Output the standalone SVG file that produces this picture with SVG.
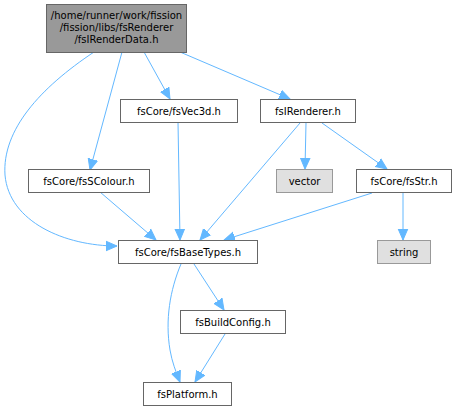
<svg xmlns="http://www.w3.org/2000/svg" width="456" height="411" viewBox="0 0 456 411">
<style>
.n rect{fill:#ffffff;stroke:#666666;stroke-width:1}
.n.root rect{fill:#999999;stroke:#666666}
.n.sys rect{fill:#e0e0e0;stroke:#999999}
text{font-family:"DejaVu Sans",sans-serif;font-size:10px;text-anchor:middle;fill:#000000}
.e path{fill:none;stroke:#63b8ff;stroke-width:1}
</style>
<defs>
<marker id="ah" markerUnits="userSpaceOnUse" markerWidth="12" markerHeight="12" viewBox="0 0 12 12" refX="11" refY="6" orient="auto">
<path d="M0,1.2 L11,6 L0,10.8 Z" fill="#63b8ff" stroke="#63b8ff"/>
</marker>
</defs>
<rect width="456" height="411" fill="#ffffff"/>
<g id="edges" class="e">
<path marker-end="url(#ah)" d="M94,52 C40,88 2,130 5,175 C9,222 65,246 117,246"/>
<path marker-end="url(#ah)" d="M122,52 L90,170"/>
<path marker-end="url(#ah)" d="M144,52 L170,99"/>
<path marker-end="url(#ah)" d="M180,52 L290,99"/>
<path marker-end="url(#ah)" d="M178,122 L180,240"/>
<path marker-end="url(#ah)" d="M100,192 L156,240"/>
<path marker-end="url(#ah)" d="M300,123 L200,240"/>
<path marker-end="url(#ah)" d="M306,123 L305,169"/>
<path marker-end="url(#ah)" d="M322,123 L387,169"/>
<path marker-end="url(#ah)" d="M372,193 L224,240"/>
<path marker-end="url(#ah)" d="M403,193 L403,240"/>
<path marker-end="url(#ah)" d="M194,264 L224,310"/>
<path marker-end="url(#ah)" d="M181,264 C170,290 165,320 170,350 C172,362 176,372 180,382"/>
<path marker-end="url(#ah)" d="M225,334 L195,382"/>
</g>
<g id="root" class="n root"><rect x="46.5" y="4.5" width="140" height="48"/><text x="116.5" y="19">/home/runner/work/fission</text><text x="116.5" y="31">/fission/libs/fsRenderer</text><text x="116.5" y="43">/fsIRenderData.h</text></g>
<g id="fsVec3d" class="n"><rect x="120.5" y="99.5" width="117" height="23"/><text x="179" y="115">fsCore/fsVec3d.h</text></g>
<g id="fsIRenderer" class="n"><rect x="260.5" y="99.5" width="95" height="23"/><text x="308" y="115">fsIRenderer.h</text></g>
<g id="fsSColour" class="n"><rect x="28.5" y="169.5" width="121" height="23"/><text x="89" y="185">fsCore/fsSColour.h</text></g>
<g id="vector" class="n sys"><rect x="276.5" y="169.5" width="56" height="23"/><text x="304.5" y="185">vector</text></g>
<g id="fsStr" class="n"><rect x="356.5" y="169.5" width="95" height="23"/><text x="404" y="185">fsCore/fsStr.h</text></g>
<g id="string" class="n sys"><rect x="377.5" y="240.5" width="53" height="23"/><text x="404" y="256">string</text></g>
<g id="fsBaseTypes" class="n"><rect x="118.5" y="240.5" width="139" height="23"/><text x="188" y="256">fsCore/fsBaseTypes.h</text></g>
<g id="fsBuildConfig" class="n"><rect x="180.5" y="310.5" width="105" height="23"/><text x="233" y="326">fsBuildConfig.h</text></g>
<g id="fsPlatform" class="n"><rect x="143.5" y="382.5" width="88" height="23"/><text x="187.5" y="398">fsPlatform.h</text></g>
</svg>
